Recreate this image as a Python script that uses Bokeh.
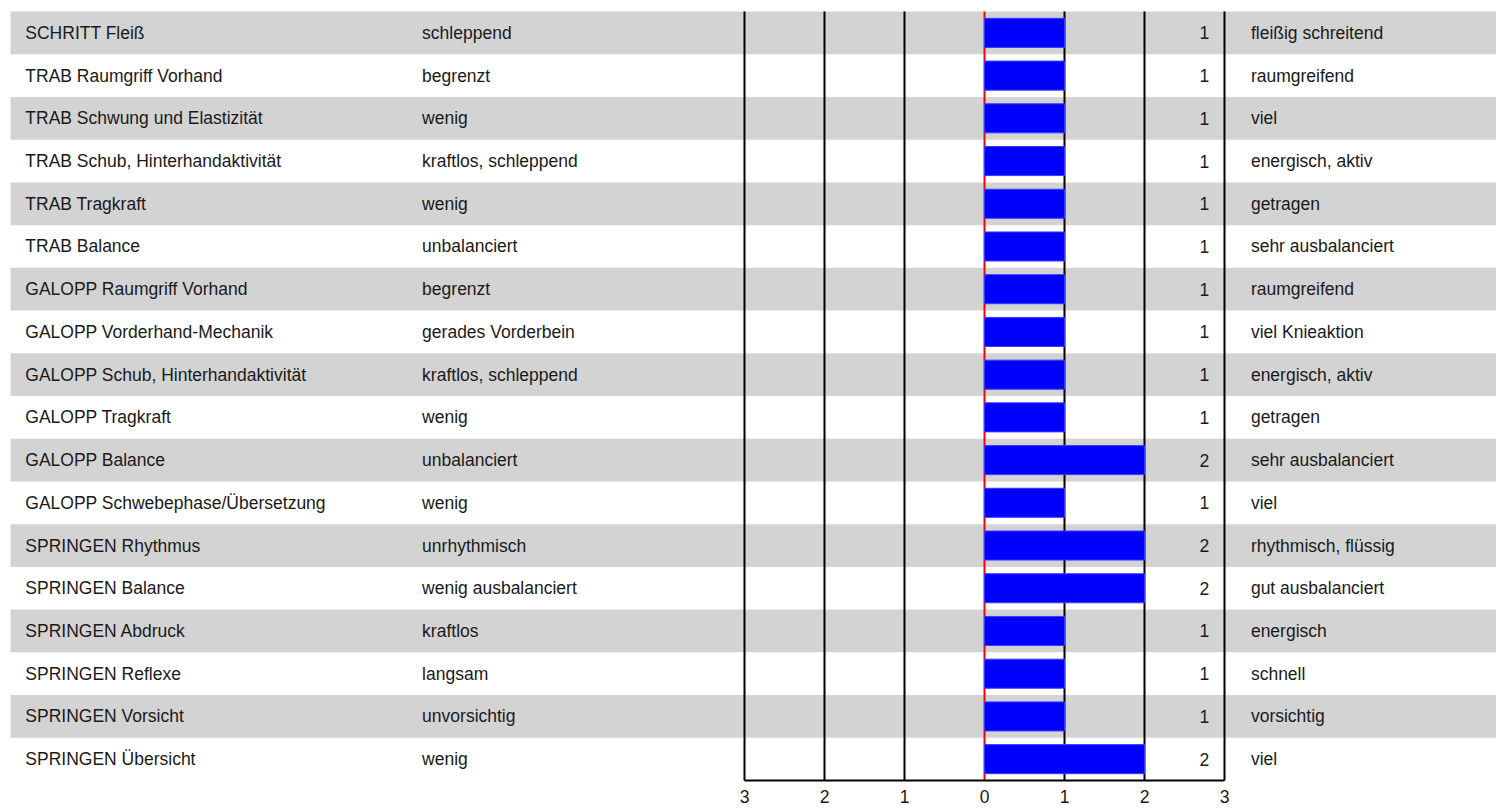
from bokeh.plotting import figure
from bokeh.models import Range1d, FixedTicker, ColumnDataSource
from bokeh.core.properties import value
from bokeh.embed import file_html
from bokeh.resources import INLINE

traits = ["SCHRITT Fleiß", "TRAB Raumgriff Vorhand", "TRAB Schwung und Elastizität",
          "TRAB Schub, Hinterhandaktivität", "TRAB Tragkraft", "TRAB Balance",
          "GALOPP Raumgriff Vorhand", "GALOPP Vorderhand-Mechanik",
          "GALOPP Schub, Hinterhandaktivität", "GALOPP Tragkraft", "GALOPP Balance",
          "GALOPP Schwebephase/Übersetzung", "SPRINGEN Rhythmus", "SPRINGEN Balance",
          "SPRINGEN Abdruck", "SPRINGEN Reflexe", "SPRINGEN Vorsicht", "SPRINGEN Übersicht"]
left_labels = ["schleppend", "begrenzt", "wenig", "kraftlos, schleppend", "wenig",
               "unbalanciert", "begrenzt", "gerades Vorderbein", "kraftlos, schleppend",
               "wenig", "unbalanciert", "wenig", "unrhythmisch", "wenig ausbalanciert",
               "kraftlos", "langsam", "unvorsichtig", "wenig"]
scores = [1, 1, 1, 1, 1, 1, 1, 1, 1, 1, 2, 1, 2, 2, 1, 1, 1, 2]
right_labels = ["fleißig schreitend", "raumgreifend", "viel", "energisch, aktiv", "getragen",
                "sehr ausbalanciert", "raumgreifend", "viel Knieaktion", "energisch, aktiv",
                "getragen", "sehr ausbalanciert", "viel", "rhythmisch, flüssig",
                "gut ausbalanciert", "energisch", "schnell", "vorsichtig", "viel"]
scale_ticks = [-3, -2, -1, 0, 1, 2, 3]
tick_labels = {-3: "3", -2: "2", -1: "1", 0: "0", 1: "1", 2: "2", 3: "3"}

FONT = "Liberation Sans"
FS = "17.5px"

n = len(traits)
rows = list(range(n))

p = figure(width=1496, height=808, output_backend="svg", toolbar_location=None,
           x_range=Range1d(-12.3, 6.4), y_range=Range1d(n - 0.5, -0.758),
           y_axis_location=None, min_border=0, min_border_bottom=28)
p.outline_line_color = None
p.xgrid.visible = False
p.ygrid.visible = False

# alternating row bands
band_rows = [r for r in rows if r % 2 == 0]
p.hbar(y=band_rows, height=1.0, left=-12.175, right=6.5, fill_color="#d3d3d3", line_color=None)

# vertical scale lines
others = [t for t in scale_ticks if t != 0]
p.segment(x0=others, y0=[-0.5] * len(others), x1=others, y1=[n + 1] * len(others),
          line_color="black", line_width=2)
p.segment(x0=[0], y0=[-0.5], x1=[0], y1=[n + 1], line_color="red", line_width=2)

# bars
p.hbar(y=rows, height=0.68, left=0, right=scores, fill_color="#0000ff",
       line_color="#3b3bff", line_width=1)

src = ColumnDataSource(dict(y=rows, traits=traits, left=left_labels,
                            score=[str(s) for s in scores], right=right_labels))
common = dict(source=src, text_font=value(FONT), text_font_size=FS,
              text_baseline="middle", text_color="#1a1a1a")
p.text(x=-11.99, y="y", text="traits", text_align="left", **common)
p.text(x=-7.03, y="y", text="left", text_align="left", **common)
p.text(x=2.81, y="y", text="score", text_align="right", **common)
p.text(x=3.33, y="y", text="right", text_align="left", **common)

ax = p.xaxis[0]
ax.bounds = (-3, 3)
ax.ticker = FixedTicker(ticks=scale_ticks)
ax.major_label_overrides = tick_labels
ax.axis_line_color = "black"
ax.axis_line_width = 2
ax.major_tick_line_color = None
ax.minor_tick_line_color = None
ax.major_tick_out = 0
ax.major_tick_in = 0
ax.major_label_standoff = 9
ax.major_label_text_font = FONT
ax.major_label_text_font_size = FS
ax.major_label_text_color = "#1a1a1a"

open("out.html", "w").write(file_html(p, INLINE))
